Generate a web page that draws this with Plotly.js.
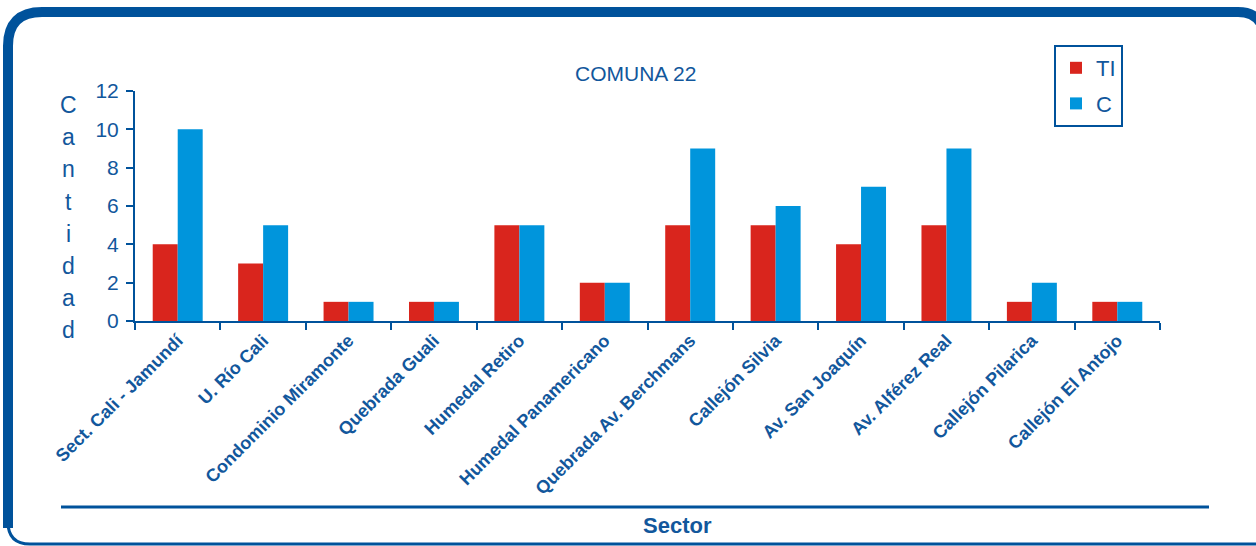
<!DOCTYPE html>
<html>
<head>
<meta charset="utf-8">
<script src="https://cdn.plot.ly/plotly-3.0.1.min.js"></script>
<style>
  html, body { margin: 0; padding: 0; background: #ffffff; }
  #chart { width: 1256px; height: 546px; }
</style>
</head>
<body>
<div id="chart"></div>
<script>
// ---- Data ----
const sectors = [
  "Sect. Cali - Jamundí",
  "U. Río Cali",
  "Condominio Miramonte",
  "Quebrada Guali",
  "Humedal Retiro",
  "Humedal Panamericano",
  "Quebrada Av. Berchmans",
  "Callejón Silvia",
  "Av. San Joaquín",
  "Av. Alférez Real",
  "Callejón Pilarica",
  "Callejón El Antojo"
];
const valuesTI = [4, 3, 1, 1, 5, 2, 5, 5, 4, 5, 1, 1];
const valuesC  = [10, 5, 1, 1, 5, 2, 9, 6, 7, 9, 2, 1];
const yTickValues = [0, 2, 4, 6, 8, 10, 12];

// ---- Layout helpers (pixel -> paper) ----
const W = 1256, H = 546;
const ML = 135, MR = 96, MT = 91, MB = 225;
const PW = W - ML - MR, PH = H - MT - MB;
const px = x => (x - ML) / PW;
const py = y => (H - MB - y) / PH;

const textColor = '#12579c';
const lineColor = '#00529b';
const font = 'Liberation Sans, Arial, sans-serif';

const traces = [
  { type: 'bar', name: 'TI', x: sectors, y: valuesTI, marker: { color: '#d9251d' }, legendgroup: 'a' },
  { type: 'bar', name: 'C',  x: sectors, y: valuesC,  marker: { color: '#0095dc' }, legendgroup: 'b' }
];

const annotations = [
  { text: 'COMUNA 22', xref: 'paper', yref: 'paper', x: px(635), y: py(73),
    xanchor: 'center', yanchor: 'middle', showarrow: false,
    font: { family: font, size: 21, color: textColor } },
  { text: 'Sector', xref: 'paper', yref: 'paper', x: px(677), y: py(525),
    xanchor: 'center', yanchor: 'middle', showarrow: false,
    font: { family: font, size: 22, color: textColor, weight: 'bold' } }
];
const yTitle = 'Cantidad'.split('');
yTitle.forEach((ch, i) => {
  annotations.push({ text: ch, xref: 'paper', yref: 'paper', x: px(68), y: py(105 + i * 32.2),
    xanchor: 'center', yanchor: 'middle', showarrow: false,
    font: { family: font, size: 23, color: textColor } });
});

const shapes = [
  // thick frame, left + top with rounded corner
  { type: 'path', xref: 'paper', yref: 'paper',
    path: `M ${px(8)},${py(528)} L ${px(8)},${py(46)} Q ${px(8)},${py(12)} ${px(42)},${py(12)} L ${px(1238)},${py(12)} Q ${px(1256)},${py(12)} ${px(1262)},${py(26)}`,
    line: { color: lineColor, width: 10 } },
  // bottom thin frame with rounded corner
  { type: 'path', xref: 'paper', yref: 'paper',
    path: `M ${px(8)},${py(522)} Q ${px(8)},${py(544)} ${px(30)},${py(544)} L ${px(1262)},${py(544)}`,
    line: { color: lineColor, width: 3 } },
  // separator above "Sector"
  { type: 'line', xref: 'paper', yref: 'paper', x0: px(61), x1: px(1209), y0: py(507), y1: py(507),
    line: { color: lineColor, width: 3 } }
];

const layout = {
  width: W, height: H,
  margin: { l: ML, r: MR, t: MT, b: MB },
  paper_bgcolor: '#ffffff', plot_bgcolor: '#ffffff',
  barmode: 'group', bargap: 0.415, bargroupgap: 0,
  font: { family: font, color: textColor },
  showlegend: true,
  legend: {
    x: px(1054), y: py(45), xanchor: 'left', yanchor: 'top',
    bordercolor: lineColor, borderwidth: 2, bgcolor: '#ffffff',
    font: { family: font, size: 22, color: textColor },
    traceorder: 'grouped', tracegroupgap: 4
  },
  xaxis: {
    type: 'category', showline: true, linecolor: lineColor, linewidth: 2,
    ticks: 'outside', tickson: 'boundaries', ticklen: 7, tickwidth: 2, tickcolor: lineColor,
    tickangle: -45, showgrid: false, zeroline: false, fixedrange: true,
    tickfont: { family: font, size: 18, color: textColor, weight: 'bold' }
  },
  yaxis: {
    range: [0, 12], tickvals: yTickValues, ticktext: yTickValues.map(String),
    showline: true, linecolor: lineColor, linewidth: 2,
    ticks: 'outside', ticklen: 7, tickwidth: 2, tickcolor: lineColor,
    ticklabelstandoff: 3,
    showgrid: false, zeroline: false, fixedrange: true,
    tickfont: { family: font, size: 21, color: textColor }
  },
  annotations: annotations,
  shapes: shapes
};

Plotly.newPlot('chart', traces, layout, { displayModeBar: false, staticPlot: true });
</script>
</body>
</html>
